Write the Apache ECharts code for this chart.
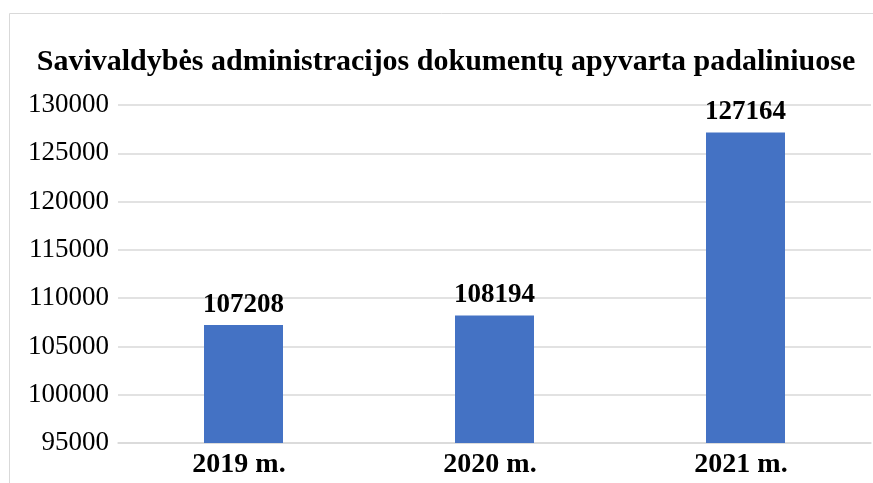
<!DOCTYPE html>
<html>
<head>
<meta charset="utf-8">
<script src="https://cdn.jsdelivr.net/npm/echarts@6/dist/echarts.min.js"></script>
<style>
html, body { margin: 0; padding: 0; background: #fff; }
#chart { width: 873px; height: 483px; }
</style>
</head>
<body>
<div id="chart"></div>
<script>
var years = ['2019 m.', '2020 m.', '2021 m.'];
var docs = [107208, 108194, 127164];
var yMin = 95000, yMax = 130000, yStep = 5000;

var serif = '"Liberation Serif", "Times New Roman", serif';
var gridColor = '#d9d9d9';

// dokumentų apyvarta
var option = {
    animation: false,
    graphic: [{
        type: 'rect',
        shape: { x: 9.5, y: 13.5, width: 900, height: 500 },
        style: { fill: 'none', stroke: gridColor, lineWidth: 1 }
    }],
    title: {
        text: 'Savivaldybės administracijos dokumentų apyvarta padaliniuose',
        left: 441,
        textAlign: 'center',
        top: 42,
        textStyle: { fontFamily: serif, fontSize: 30, fontWeight: 'bold', color: '#000' }
    },
    grid: { left: 118, right: 2, top: 105, bottom: 40 },
    xAxis: {
        type: 'category',
        data: years,
        axisTick: { show: false },
        axisLine: { lineStyle: { color: gridColor, width: 1.5 } },
        axisLabel: {
            fontFamily: serif, fontSize: 28, fontWeight: 'bold', color: '#000', margin: 8,
            padding: [0, 9, 0, 0]
        }
    },
    yAxis: {
        type: 'value',
        min: yMin,
        max: yMax,
        interval: yStep,
        axisLine: { show: false },
        axisTick: { show: false },
        splitLine: { lineStyle: { color: gridColor, width: 1.5 } },
        axisLabel: {
            fontFamily: serif, fontSize: 27, color: '#000', margin: 9,
            formatter: function (v) { return String(v); }
        }
    },
    series: [{
        type: 'bar',
        data: docs,
        barWidth: 79,
        itemStyle: { color: '#4472c4' },
        label: {
            show: true,
            position: 'top',
            distance: 7,
            fontFamily: serif,
            fontSize: 27,
            fontWeight: 'bold',
            color: '#000'
        }
    }]
};

var chart = echarts.init(document.getElementById('chart'));
chart.setOption(option);
</script>
</body>
</html>
